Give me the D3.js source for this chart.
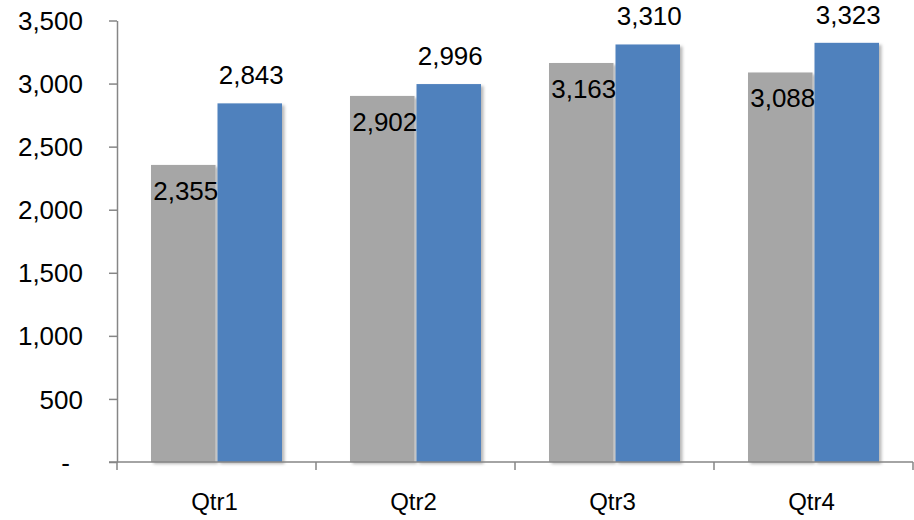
<!DOCTYPE html>
<html>
  <head>
    <meta charset="utf-8" />
    <script src="https://d3js.org/d3.v7.min.js"></script>
    <style>
      body {
        margin: 0;
        background: #fff;
      }
      text {
        font-family: "Liberation Sans", Arial, sans-serif;
        fill: #000;
      }
      .axis path,
      .axis line {
        stroke: #868686;
        stroke-width: 1.5;
      }
    </style>
  </head>
  <body>
    <svg id="chart" width="914" height="520"></svg>
    <script>
      // chart values
      const quarters = ["Qtr1", "Qtr2", "Qtr3", "Qtr4"];
      const seriesNames = ["Previous", "Current"];
      const previousValues = [2355, 2902, 3163, 3088];
      const currentValues = [2843, 2996, 3310, 3323];
      const yTicks = [0, 500, 1000, 1500, 2000, 2500, 3000, 3500];
      const seriesColors = ["#a6a6a6", "#4f81bd"];

      const svg = d3.select("#chart");
      const plotLeft = 117,
        plotRight = 913,
        plotTop = 20.5,
        plotBottom = 462;

      const rows = quarters.map((q, i) => ({
        q: q,
        vals: [previousValues[i], currentValues[i]],
      }));

      const x0 = d3.scaleBand().domain(quarters).range([plotLeft, plotRight]);
      const groupW = 131;
      const x1 = d3
        .scaleBand()
        .domain(seriesNames)
        .range([(x0.bandwidth() - groupW) / 2, (x0.bandwidth() + groupW) / 2]);
      const y = d3.scaleLinear().domain([0, 3500]).range([plotBottom, plotTop]);

      // soft shadow like the spreadsheet bars
      const defs = svg.append("defs");
      const f = defs
        .append("filter")
        .attr("id", "shadow")
        .attr("x", "-20%")
        .attr("y", "-10%")
        .attr("width", "140%")
        .attr("height", "130%");
      f.append("feDropShadow")
        .attr("dx", 2.5)
        .attr("dy", 2)
        .attr("stdDeviation", 1.6)
        .attr("flood-color", "#000")
        .attr("flood-opacity", 0.28);

      // y axis
      const yAxis = svg
        .append("g")
        .attr("class", "axis")
        .attr("transform", `translate(${plotLeft},0)`)
        .call(
          d3
            .axisLeft(y)
            .tickValues(yTicks)
            .tickSize(8)
            .tickSizeOuter(0)
            .tickPadding(0)
            .tickFormat((d) => (d === 0 ? "-" : d3.format(",")(d)))
        );
      yAxis
        .selectAll("text")
        .attr("x", (d) => (d === 0 ? -47 : -34))
        .attr("dy", "0.35em")
        .style("font-size", "26px");

      // bars
      const groups = svg
        .selectAll("g.grp")
        .data(rows)
        .join("g")
        .attr("class", "grp")
        .attr("transform", (d) => `translate(${x0(d.q)},0)`);

      groups
        .selectAll("rect")
        .data((d) => d.vals.map((v, i) => ({ v: v, s: seriesNames[i], i: i })))
        .join("rect")
        .attr("x", (d) => x1(d.s) + (d.i === 0 ? 0 : 1))
        .attr("width", x1.bandwidth() - 1)
        .attr("y", (d) => y(d.v))
        .attr("height", (d) => y(0) - y(d.v))
        .attr("fill", (d) => seriesColors[d.i])
        .attr("filter", "url(#shadow)");

      // x axis line and boundary ticks
      const xAxis = svg.append("g").attr("class", "axis");
      xAxis
        .append("line")
        .attr("x1", plotLeft)
        .attr("x2", plotRight)
        .attr("y1", y(0))
        .attr("y2", y(0));
      const bounds = quarters.map((q) => x0(q)).concat([plotRight]);
      xAxis
        .selectAll("line.tk")
        .data(bounds)
        .join("line")
        .attr("class", "tk")
        .attr("x1", (d) => d)
        .attr("x2", (d) => d)
        .attr("y1", y(0))
        .attr("y2", y(0) + 8);
      svg
        .append("line")
        .attr("x1", plotLeft - 8)
        .attr("x2", plotLeft)
        .attr("y1", y(0))
        .attr("y2", y(0))
        .attr("stroke", "#868686")
        .attr("stroke-width", 1.5);

      svg
        .selectAll("text.cat")
        .data(quarters)
        .join("text")
        .attr("class", "cat")
        .attr("x", (d) => x0(d) + x0.bandwidth() / 2 - 2)
        .attr("y", 510)
        .attr("text-anchor", "middle")
        .style("font-size", "24px")
        .text((d) => d);

      // data labels: previous inside top, current above
      groups
        .selectAll("text.lbl")
        .data((d) => d.vals.map((v, i) => ({ v: v, s: seriesNames[i], i: i })))
        .join("text")
        .attr("class", "lbl")
        .attr("x", (d) => x1(d.s) + x1.bandwidth() / 2 + 2)
        .attr("y", (d) => (d.i === 0 ? y(d.v) + 35 : y(d.v) - 19))
        .attr("text-anchor", "middle")
        .style("font-size", "26px")
        .text((d) => d3.format(",")(d.v));
    </script>
  </body>
</html>
